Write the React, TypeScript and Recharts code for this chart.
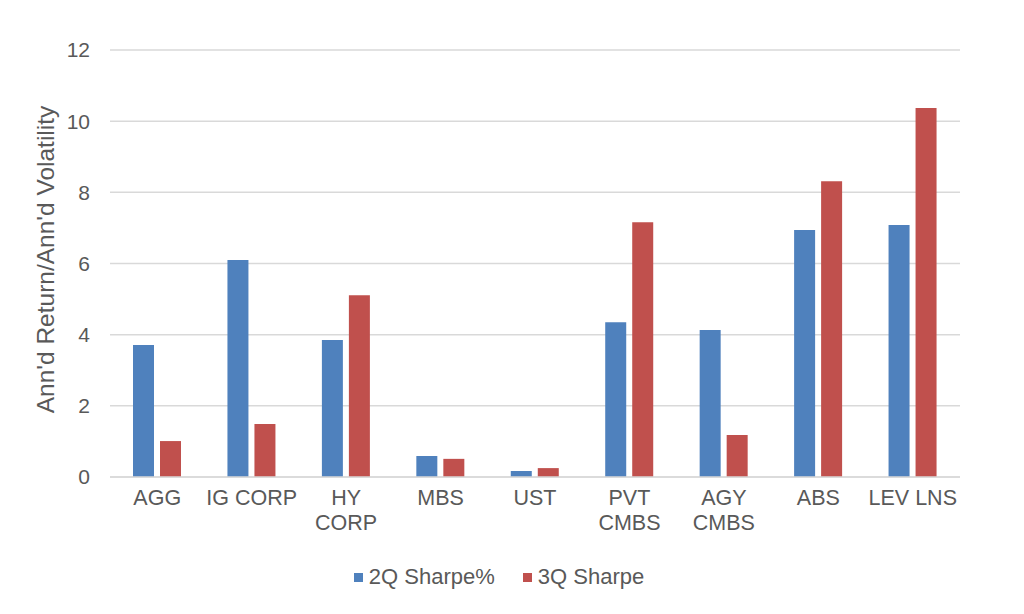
import React from "react";
import { BarChart, Bar, XAxis, YAxis, CartesianGrid, Legend } from "recharts";

const categories = ["AGG", "IG CORP", "HY\nCORP", "MBS", "UST", "PVT\nCMBS", "AGY\nCMBS", "ABS", "LEV LNS"];
const sharpe2Q = [3.71, 6.1, 3.85, 0.59, 0.17, 4.35, 4.13, 6.94, 7.08];
const sharpe3Q = [1.01, 1.49, 5.11, 0.51, 0.25, 7.16, 1.18, 8.31, 10.37];
const yTicks = [0, 2, 4, 6, 8, 10, 12];
const seriesNames = ["2Q Sharpe%", "3Q Sharpe"];
const colors = ["#4F81BD", "#C0504D"];

const data = categories.map((c, i) => ({ name: c, s2: sharpe2Q[i], s3: sharpe3Q[i] }));

const FONT = "'Liberation Sans', Arial, sans-serif";
const TEXT = "#595959";

const XTick = (props: any) => {
  const { x, y, payload } = props;
  const lines = String(payload.value).split("\n");
  return (
    <text x={x} y={y} textAnchor="middle" fill={TEXT} fontSize={21.5} fontFamily={FONT}>
      {lines.map((l: string, i: number) => (
        <tspan key={i} x={x} dy={i === 0 ? 20 : 25}>
          {l}
        </tspan>
      ))}
    </text>
  );
};

const YLabel = (props: any) => {
  const vb = props.viewBox || { x: 0, y: 0, width: 0, height: 0 };
  const cx = vb.x + 54;
  const cy = vb.y + vb.height / 2 - 4;
  return (
    <text
      x={cx}
      y={cy}
      transform={`rotate(-90 ${cx} ${cy})`}
      textAnchor="middle"
      fill={TEXT}
      fontSize={24.5}
      fontFamily={FONT}
    >
      Ann'd Return/Ann'd Volatility
    </text>
  );
};

const LegendContent = () => (
  <div style={{ display: "flex", justifyContent: "center", fontFamily: FONT, fontSize: 22, color: TEXT }}>
    {seriesNames.map((n, i) => (
      <div key={n} style={{ display: "flex", alignItems: "center", marginRight: i === 0 ? 28 : 0 }}>
        <span style={{ display: "inline-block", width: 9, height: 9, background: colors[i], marginRight: 6 }} />
        <span>{n}</span>
      </div>
    ))}
  </div>
);

export default function App() {
  return (
    <div style={{ position: "absolute", left: 0, top: 0, width: 1024, height: 614, background: "#fff" }}>
      <BarChart
        width={1024}
        height={614}
        data={data}
        margin={{ top: 50, right: 64, left: 0, bottom: 77 }}
        barSize={21}
        barGap={6}
      >
        <CartesianGrid horizontal vertical={false} stroke="#D9D9D9" strokeWidth={1.5} />
        <XAxis
          dataKey="name"
          interval={0}
          tickLine={false}
          axisLine={{ stroke: "#D9D9D9", strokeWidth: 1.5 }}
          tick={<XTick />}
          height={60}
        />
        <YAxis
          width={110}
          domain={[0, 12]}
          ticks={yTicks}
          axisLine={false}
          tickLine={false}
          tickSize={0}
          tickMargin={20}
          tick={{ fill: TEXT, fontSize: 21, fontFamily: FONT }}
          label={<YLabel />}
        />
        <Legend
          layout="horizontal"
          verticalAlign="middle"
          align="center"
          content={<LegendContent />}
          wrapperStyle={{ top: 564, left: -13, width: 1024 }}
        />
        <Bar dataKey="s2" name={seriesNames[0]} fill={colors[0]} isAnimationActive={false} />
        <Bar dataKey="s3" name={seriesNames[1]} fill={colors[1]} isAnimationActive={false} />
      </BarChart>
    </div>
  );
}
